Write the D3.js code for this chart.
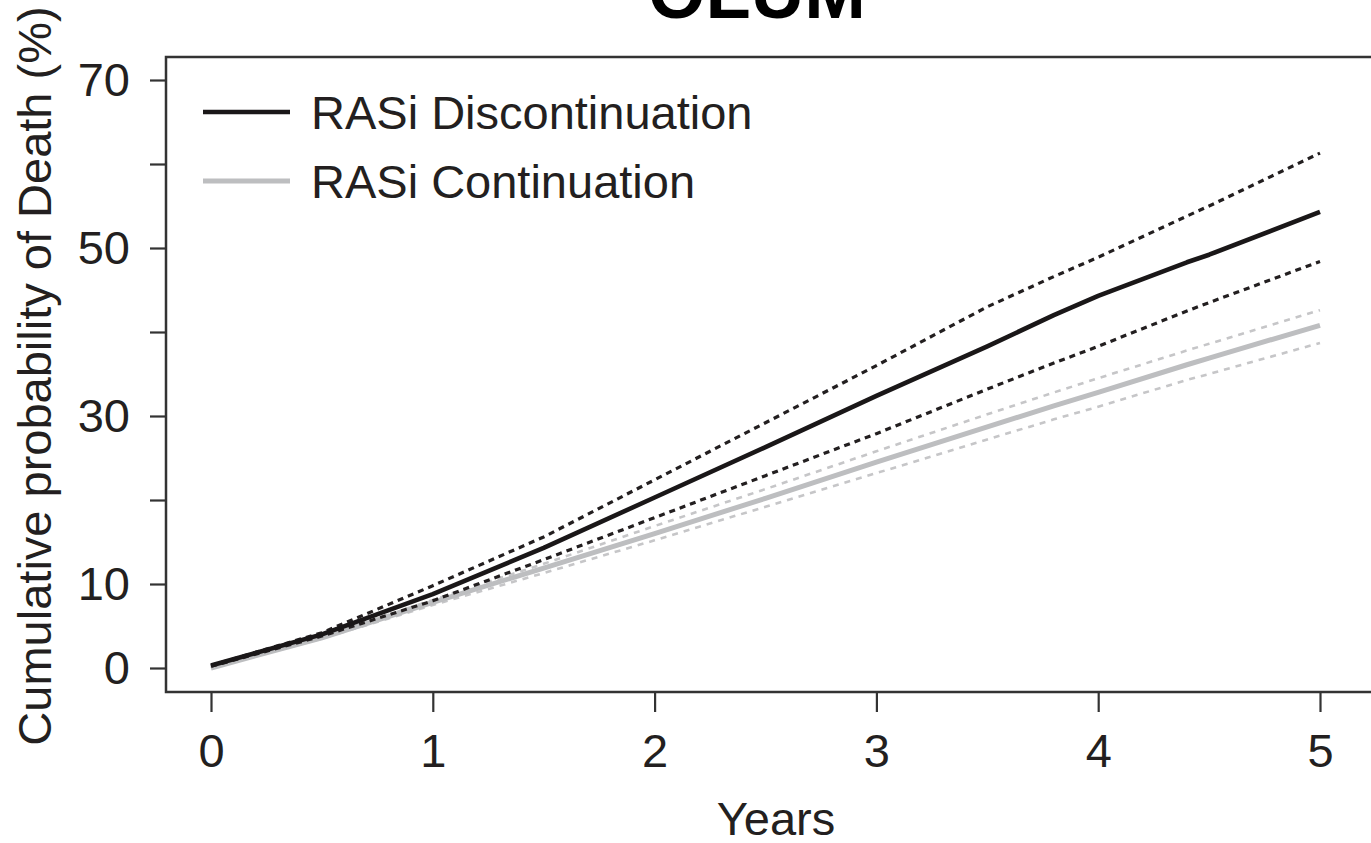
<!DOCTYPE html>
<html>
<head>
<meta charset="utf-8">
<script src="https://cdn.jsdelivr.net/npm/d3@7"></script>
<style>
  body { margin: 0; background: #fff; }
  text { font-family: "Liberation Sans", Arial, Helvetica, sans-serif; fill: #231f20; }
</style>
</head>
<body>
<svg id="chart" width="1371" height="843"></svg>
<script>
// time points (years)
const years = [0, 0.5, 1, 1.5, 2, 2.5, 3, 3.5, 3.8, 4, 4.4, 4.5, 5];

// RASi discontinuation: estimate and 95% band
const disc      = [0.3, 4.0, 8.8, 14.3, 20.3, 26.3, 32.4, 38.3, 42.0, 44.3, 48.3, 49.2, 54.3];
const discUpper = [0.3, 4.2, 9.8, 15.6, 22.4, 29.2, 36.0, 43.0, 46.6, 48.9, 53.8, 55.0, 61.3];
const discLower = [0.2, 3.8, 8.0, 12.9, 17.9, 22.9, 27.9, 33.2, 36.3, 38.3, 42.5, 43.5, 48.4];

// RASi continuation
const cont      = [0.0, 3.6, 7.8, 11.9, 16.0, 20.2, 24.5, 28.7, 31.2, 32.8, 36.1, 36.9, 40.8];
const contUpper = [0.0, 3.7, 8.1, 12.4, 16.9, 21.3, 25.8, 30.2, 32.8, 34.5, 37.8, 38.6, 42.6];
const contLower = [0.0, 3.5, 7.5, 11.3, 15.2, 19.2, 23.2, 27.2, 29.6, 31.1, 34.3, 35.0, 38.7];

const xTicks = [0, 1, 2, 3, 4, 5];
const yTicks = [0, 10, 20, 30, 40, 50, 60, 70];
const yLabelled = [0, 10, 30, 50, 70];

const legendNames = ["RASi Discontinuation", "RASi Continuation"];

const svg = d3.select("#chart");
const fs = 47;

const x = d3.scaleLinear().domain([0, 5]).range([211, 1320]);
const y = d3.scaleLinear().domain([0, 70]).range([668, 80]);

// title, mostly cut off at the top
svg.append("text")
  .attr("x", 757).attr("y", 18)
  .attr("text-anchor", "middle")
  .style("font-size", "74px")
  .style("font-weight", "bold")
  .style("fill", "#000")
  .text("OLUM");

// plot frame (right side runs off the picture)
svg.append("rect")
  .attr("x", 166).attr("y", 57)
  .attr("width", 1300).attr("height", 635)
  .style("fill", "none")
  .style("stroke", "#333")
  .style("stroke-width", 2.5);

// y axis
const yAxis = d3.axisLeft(y)
  .tickValues(yTicks)
  .tickSize(16)
  .tickPadding(20)
  .tickFormat(d => yLabelled.includes(d) ? d : "");
const gy = svg.append("g").attr("transform", "translate(166,0)").call(yAxis);
gy.select(".domain").remove();
gy.selectAll(".tick line").style("stroke", "#333").style("stroke-width", 2.2);
gy.selectAll(".tick text").style("font-size", fs + "px").attr("fill", "#231f20");

// x axis
const xAxis = d3.axisBottom(x)
  .tickValues(xTicks)
  .tickSize(20)
  .tickPadding(22)
  .tickFormat(d3.format("d"));
const gx = svg.append("g").attr("transform", "translate(0,692)").call(xAxis);
gx.select(".domain").remove();
gx.selectAll(".tick line").style("stroke", "#333").style("stroke-width", 2.2);
gx.selectAll(".tick text").style("font-size", fs + "px").attr("fill", "#231f20");

// axis titles
svg.append("text")
  .attr("x", 776).attr("y", 835)
  .attr("text-anchor", "middle")
  .style("font-size", fs + "px")
  .text("Years");

svg.append("text")
  .attr("transform", "translate(51,376) rotate(-90)")
  .attr("text-anchor", "middle")
  .style("font-size", fs + "px")
  .text("Cumulative probability of Death (%)");

const line = d3.line()
  .x((d, i) => x(years[i]))
  .y(d => y(d));

const series = [
  { values: contUpper, color: "#c6c6c8", width: 2.6, dash: "6,6" },
  { values: contLower, color: "#c6c6c8", width: 2.6, dash: "6,6" },
  { values: cont,      color: "#bdbec0", width: 5,   dash: null },
  { values: discUpper, color: "#231f20", width: 3.2, dash: "6,5" },
  { values: discLower, color: "#231f20", width: 3.2, dash: "6,5" },
  { values: disc,      color: "#1a1718", width: 4.6, dash: null }
];

svg.selectAll("path.series")
  .data(series)
  .join("path")
  .attr("class", "series")
  .attr("d", d => line(d.values))
  .style("fill", "none")
  .style("stroke", d => d.color)
  .style("stroke-width", d => d.width)
  .style("stroke-linejoin", "round")
  .style("stroke-dasharray", d => d.dash);

// legend
const legendColors = ["#1a1718", "#bdbec0"];
const leg = svg.selectAll("g.legend")
  .data(legendNames)
  .join("g")
  .attr("class", "legend")
  .attr("transform", (d, i) => `translate(203,${112 + i * 69})`);
leg.append("line")
  .attr("x1", 0).attr("x2", 87)
  .style("stroke", (d, i) => legendColors[i])
  .style("stroke-width", (d, i) => i == 0 ? 4.6 : 5);
leg.append("text")
  .attr("x", 108).attr("y", 17)
  .style("font-size", fs + "px")
  .text(d => d);
</script>
</body>
</html>
